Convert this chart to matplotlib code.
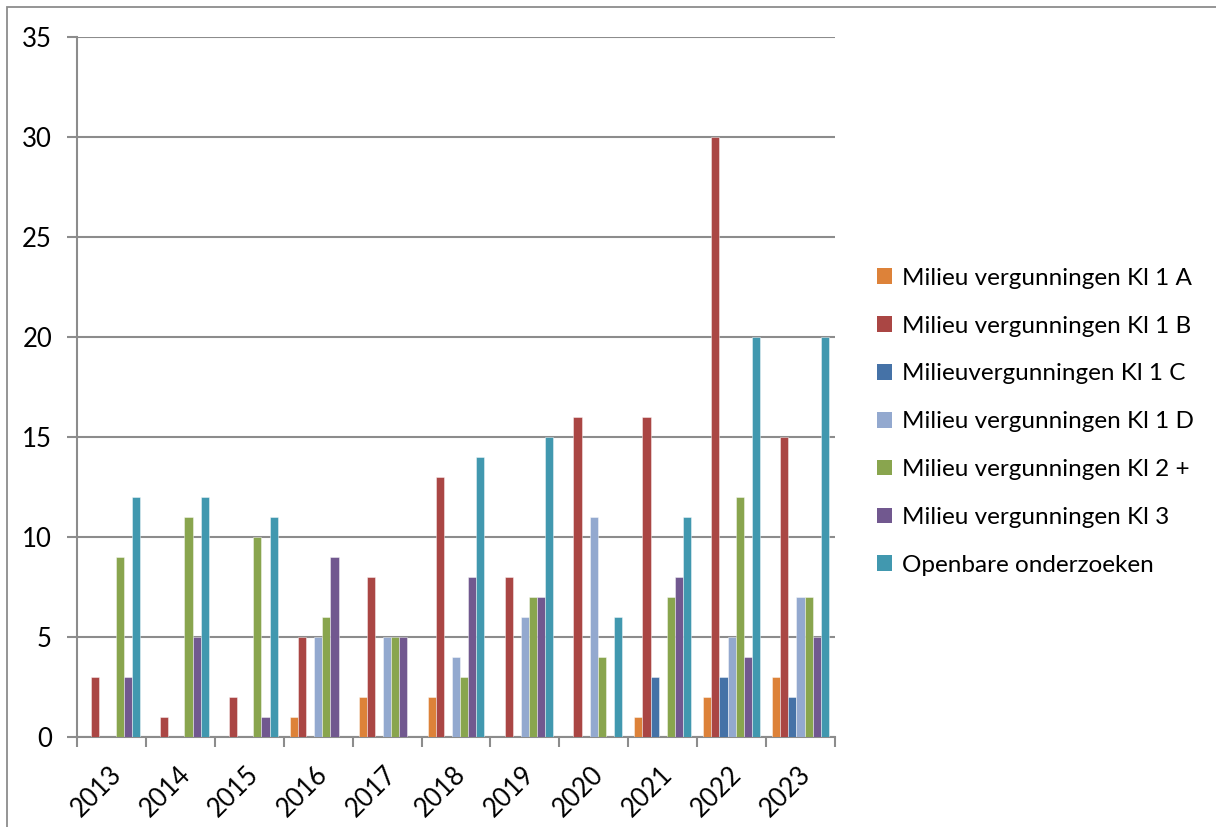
import numpy as np
import matplotlib
matplotlib.use("Agg")
import matplotlib.pyplot as plt
from matplotlib.patches import Rectangle, Patch
import matplotlib.transforms as mtransforms

plt.rcParams['font.family'] = ['Lato', 'DejaVu Sans']

years = ['2013', '2014', '2015', '2016', '2017', '2018', '2019', '2020', '2021', '2022', '2023']
series_names = ['Milieu vergunningen Kl 1 A', 'Milieu vergunningen Kl 1 B', 'Milieuvergunningen Kl 1 C',
                'Milieu vergunningen Kl 1 D', 'Milieu vergunningen Kl 2 +', 'Milieu vergunningen Kl 3',
                'Openbare onderzoeken']
kl1a = [0, 0, 0, 1, 2, 2, 0, 0, 1, 2, 3]
kl1b = [3, 1, 2, 5, 8, 13, 8, 16, 16, 30, 15]
kl1c = [0, 0, 0, 0, 0, 0, 0, 0, 3, 3, 2]
kl1d = [0, 0, 0, 5, 5, 4, 6, 11, 0, 5, 7]
kl2 = [9, 11, 10, 6, 5, 3, 7, 4, 7, 12, 7]
kl3 = [3, 5, 1, 9, 5, 8, 7, 0, 8, 4, 5]
openbaar = [12, 12, 11, 0, 0, 14, 15, 6, 11, 20, 20]
series = [kl1a, kl1b, kl1c, kl1d, kl2, kl3, openbaar]
colors = ['#DD8239', '#AA4644', '#4572A7', '#93A9CF', '#89A54E', '#71588F', '#4198AF']

W, H = 1216, 827
fig = plt.figure(figsize=(W / 100, H / 100), dpi=100)
fig.patch.set_facecolor('white')

# outer frame (left and top visible)
fig.add_artist(Rectangle((7 / W, -0.01), 1.02, 1 - 7 / H + 0.01, transform=fig.transFigure,
                         fill=False, edgecolor='#8c8c8c', linewidth=1.3))

ax = fig.add_axes([77 / W, (H - 737) / H, (835 - 77) / W, 700 / H])
x = np.arange(len(years))
w = 0.118
for j, (vals, c) in enumerate(zip(series, colors)):
    ax.bar(x + (j - 3) * w, vals, width=w, color=c, edgecolor=(1, 1, 1, 0.5), linewidth=0.6, zorder=3)

ax.set_xlim(-0.5, len(years) - 0.5)
ax.set_ylim(0, 35)
ax.set_yticks(np.arange(0, 36, 5))
ax.yaxis.grid(True, color='#8c8c8c', linewidth=1.5, zorder=0)
ax.set_axisbelow(True)
for s in ['top', 'right']:
    ax.spines[s].set_visible(False)
for s in ['left', 'bottom']:
    ax.spines[s].set_color('#8c8c8c')
    ax.spines[s].set_linewidth(1.5)

ax.set_xticks(np.arange(-0.5, len(years) + 0.5, 1.0), minor=False)
ax.set_xticklabels([])
ax.set_xticks(x, minor=True)
ax.set_xticklabels(years, minor=True, rotation=45, ha='right', rotation_mode='anchor', fontsize=18.5)
ax.tick_params(axis='x', which='major', length=7, width=1.5, color='#8c8c8c', direction='out')
ax.tick_params(axis='x', which='minor', length=0, pad=18)
ax.tick_params(axis='y', length=7, width=1.5, color='#8c8c8c', labelsize=18.5, pad=11)
for lbl in ax.get_xticklabels(minor=True):
    lbl.set_transform(lbl.get_transform() + mtransforms.ScaledTranslation(-0.03, 0, fig.dpi_scale_trans))

handles = [Patch(facecolor=c, edgecolor='none') for c in colors]
fig.legend(handles, series_names, loc='upper left', bbox_to_anchor=(867 / W, 1 - 258 / H),
           frameon=False, fontsize=17.5, handlelength=0.62, handleheight=0.62, handletextpad=0.4,
           labelspacing=1.105, borderaxespad=0)

fig.savefig('out.png', dpi=100)
